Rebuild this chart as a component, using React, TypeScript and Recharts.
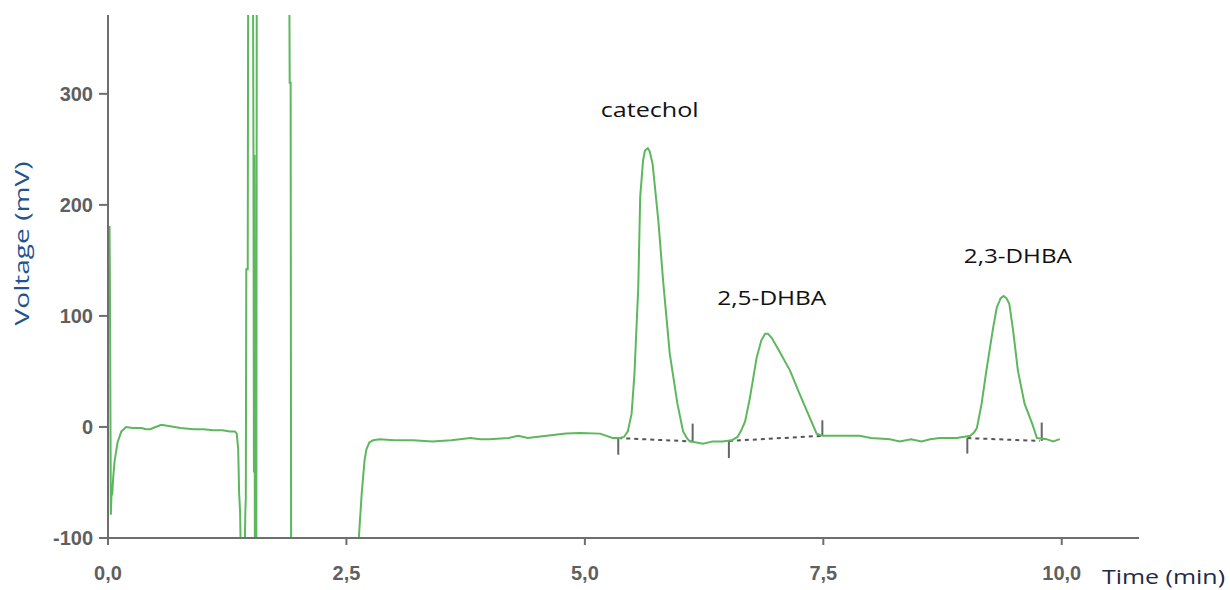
import React from 'react';
import { LineChart, Line, XAxis, YAxis, ReferenceLine, ReferenceDot } from 'recharts';

// chromatogram trace (time in min, voltage in mV)
const time = [
  0.012, 0.016, 0.02, 0.03, 0.036, 0.045, 0.055, 0.07, 0.1, 0.14, 0.19, 0.26, 0.35, 0.4, 0.44, 0.5, 0.56, 0.62, 0.7,
  0.76, 0.9, 1.0, 1.1, 1.2, 1.28, 1.33, 1.35, 1.365, 1.375, 1.385, 1.395, 1.43, 1.44, 1.445, 1.45, 1.465, 1.47,
  1.52, 1.525, 1.53, 1.535, 1.54, 1.555, 1.56, 1.9, 1.905, 1.915, 1.92, 2.62, 2.63, 2.66, 2.69, 2.71, 2.74, 2.78,
  2.85, 3.0, 3.2, 3.4, 3.6, 3.8, 3.9, 4.0, 4.2, 4.3, 4.4, 4.6, 4.8, 4.95, 5.16, 5.29, 5.37, 5.41, 5.45, 5.49, 5.52,
  5.56, 5.58, 5.61, 5.63, 5.66, 5.68, 5.71, 5.77, 5.82, 5.89, 5.97, 6.03, 6.07, 6.1, 6.17, 6.24, 6.34, 6.44, 6.54,
  6.6, 6.64, 6.68, 6.73, 6.8, 6.85, 6.89, 6.92, 6.96, 7.02, 7.15, 7.25, 7.36, 7.43, 7.49, 7.7, 7.88, 8.0, 8.2, 8.3,
  8.42, 8.53, 8.62, 8.72, 8.9, 9.04, 9.08, 9.11, 9.16, 9.21, 9.28, 9.32, 9.36, 9.39, 9.42, 9.45, 9.49, 9.54, 9.61,
  9.69, 9.74, 9.84, 9.91, 9.98,
];
const voltage = [
  131, 181, 131, -79, -62, -60, -45, -30, -14, -4, 0, -1, -1, -2, -2, 0, 2, 1, 0,
  -1, -2, -2, -3, -3, -4, -4, -6, -20, -60, -76, -130, -130, -76, -64, 142, 142, 420,
  420, 245, -41, 245, -130, -130, 420, 420, 310, 310, -130, -130, -100, -60, -30, -20, -14, -12,
  -11, -12, -12, -13, -12, -10, -11, -11, -10, -8, -10, -8, -6, -5.5, -6, -10, -10, -9, -4, 12, 48,
  126, 207, 240, 249, 251, 248, 237, 186, 132, 66, 21, -4, -10, -13, -14, -15, -13, -13, -12,
  -9, -3, 5, 26, 62, 78, 84, 84, 80, 71, 51, 30, 8, -6, -8, -8, -8, -10, -11, -13,
  -11, -13, -11, -10, -10, -8, -5, -1, 21, 51, 89, 108, 116, 118, 116, 111, 87, 51, 21,
  3, -10, -11, -13, -11,
];

// integration baselines (dashed) per peak
const baselineCatechol = [{ t: 5.35, v: -10 }, { t: 6.12, v: -13 }];
const baseline25 = [{ t: 6.51, v: -12.6 }, { t: 7.49, v: -8 }];
const baseline23 = [{ t: 9.01, v: -10 }, { t: 9.77, v: -12.6 }];

// peak start / end markers
const markerTime = [5.35, 6.13, 6.51, 7.49, 9.01, 9.79];
const markerFrom = [-10, -13, -12.6, -8, -10, -12.6];
const markerTo = [-25, 3, -28, 6, -24, 4];

// peak names
const peakNames = ['catechol', '2,5-DHBA', '2,3-DHBA'];
const peakLabelTime = [5.68, 6.96, 9.54];
const peakLabelVolt = [285, 116, 154];
const peakLabelWidth = [98, 109, 108];

const xTicks = [0, 2.5, 5, 7.5, 10];
const yTicks = [-100, 0, 100, 200, 300];

const data = time.map((t, i) => ({ t, v: voltage[i] }));

const axisColor = '#6e6e6e';
const tickStyle = { fill: '#5f5f5f', fontSize: 20, fontWeight: 'bold', fontFamily: 'Liberation Sans, Arial, sans-serif' };

const PeakLabel = (props: any) => {
  const { viewBox, text, width } = props;
  return (
    <text x={viewBox.x} y={viewBox.y} dy="0.35em" textAnchor="middle" fontFamily="Open Sans" fontSize={20}
      fill="#111" textLength={width} lengthAdjust="spacingAndGlyphs">{text}</text>
  );
};

const VoltLabel = (props: any) => {
  const { viewBox } = props;
  const cx = viewBox.x - 26;
  const cy = viewBox.y + viewBox.height / 2 - 33;
  return (
    <text x={cx} y={cy} dy="0.35em" textAnchor="middle" transform={`rotate(-90, ${cx}, ${cy})`}
      fontFamily="Open Sans" fontSize={20} fill="#24528f" textLength={164} lengthAdjust="spacingAndGlyphs">
      Voltage (mV)
    </text>
  );
};

const TimeLabel = (props: any) => {
  const { viewBox } = props;
  return (
    <text x={viewBox.x + viewBox.width - 37} y={viewBox.y + 46} fontFamily="Open Sans" fontSize={20}
      fill="#1f2a44" textLength={123} lengthAdjust="spacingAndGlyphs">Time (min)</text>
  );
};

export default function App() {
  return (
    <div style={{ position: 'absolute', left: 0, top: 0, width: 1230, height: 590, background: '#fff' }}>
      <LineChart width={1230} height={590} data={data} margin={{ top: 15, right: 91, bottom: 0, left: 48 }}>
        <XAxis
          type="number"
          dataKey="t"
          domain={[0, 10.81]}
          ticks={xTicks}
          allowDataOverflow
          height={52}
          tickSize={7}
          tickMargin={21}
          tick={tickStyle}
          tickFormatter={(v: number) => v.toFixed(1).replace('.', ',')}
          axisLine={{ stroke: axisColor, strokeWidth: 2 }}
          tickLine={{ stroke: axisColor, strokeWidth: 2 }}
          label={{ content: <TimeLabel /> }}
        />
        <YAxis
          type="number"
          domain={[-100, 371]}
          ticks={yTicks}
          allowDataOverflow
          width={60}
          tickSize={9}
          tickMargin={6}
          tick={tickStyle}
          axisLine={{ stroke: axisColor, strokeWidth: 2 }}
          tickLine={{ stroke: axisColor, strokeWidth: 2 }}
          label={{ content: <VoltLabel /> }}
        />
        <Line data={baselineCatechol} dataKey="v" stroke="#555" strokeWidth={2} strokeDasharray="4 4" dot={false} isAnimationActive={false} />
        <Line data={baseline25} dataKey="v" stroke="#555" strokeWidth={2} strokeDasharray="4 4" dot={false} isAnimationActive={false} />
        <Line data={baseline23} dataKey="v" stroke="#555" strokeWidth={2} strokeDasharray="4 4" dot={false} isAnimationActive={false} />
        {markerTime.map((t, i) => (
          <ReferenceLine key={'m' + i} segment={[{ x: t, y: markerFrom[i] }, { x: t, y: markerTo[i] }]} stroke="#666" strokeWidth={2} />
        ))}
        <Line type="linear" dataKey="v" stroke="#5cb85c" strokeWidth={2} dot={false} isAnimationActive={false} />
        {peakNames.map((name, i) => (
          <ReferenceDot key={name} x={peakLabelTime[i]} y={peakLabelVolt[i]} r={0} fill="none" stroke="none"
            label={{ content: <PeakLabel text={name} width={peakLabelWidth[i]} /> }} />
        ))}
      </LineChart>
    </div>
  );
}
